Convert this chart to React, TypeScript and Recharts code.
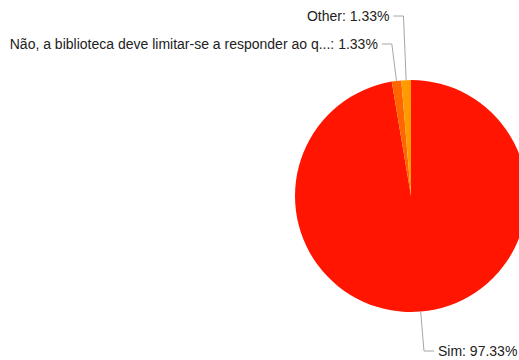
import { PieChart, Pie, Cell } from "recharts";

const labels = [
  "Sim",
  "Não, a biblioteca deve limitar-se a responder ao q...",
  "Other",
];
const shares = [97.33, 1.33, 1.33];
const colors = ["#ff1500", "#ff6600", "#ff9a00"];
// label rows (layout only)
const labelRows = [351, 44, 16];

const data = labels.map((name, i) => ({ name, value: shares[i] }));

const RAD = Math.PI / 180;

function renderLabel(props: any) {
  const { cx, cy, midAngle, outerRadius, index } = props;
  const cos = Math.cos(-midAngle * RAD);
  const sin = Math.sin(-midAngle * RAD);
  const sx = cx + outerRadius * cos;
  const sy = cy + outerRadius * sin;
  const ey = labelRows[index];
  const r2 = (ey - cy) / sin;
  const ex = cx + r2 * cos;
  const right = cos >= 0;
  const hx = ex + (right ? 10 : -10);
  const tx = hx + (right ? 4 : -4);
  const text = `${labels[index]}: ${shares[index].toFixed(2)}%`;
  return (
    <g>
      <polyline
        points={`${sx},${sy} ${ex},${ey} ${hx},${ey}`}
        fill="none"
        stroke="#a6a6a6"
        strokeWidth={1}
      />
      <text
        x={tx}
        y={ey}
        dy={5}
        textAnchor={right ? "start" : "end"}
        fill="#222222"
        fontSize={14}
        fontFamily="'Liberation Sans', Arial, sans-serif"
      >
        {text}
      </text>
    </g>
  );
}

export default function App() {
  return (
    <div style={{ position: "absolute", left: 0, top: 0, width: 519, height: 360, background: "#fff", overflow: "hidden" }}>
      <PieChart width={519} height={360} margin={{ top: 0, right: 0, bottom: 0, left: 0 }}>
        <Pie
          data={data}
          dataKey="value"
          nameKey="name"
          cx={411}
          cy={196}
          outerRadius={116}
          startAngle={90}
          endAngle={-270}
          stroke="none"
          label={renderLabel}
          labelLine={false}
          isAnimationActive={false}
        >
          {data.map((d, i) => (
            <Cell key={d.name} fill={colors[i]} />
          ))}
        </Pie>
      </PieChart>
    </div>
  );
}
